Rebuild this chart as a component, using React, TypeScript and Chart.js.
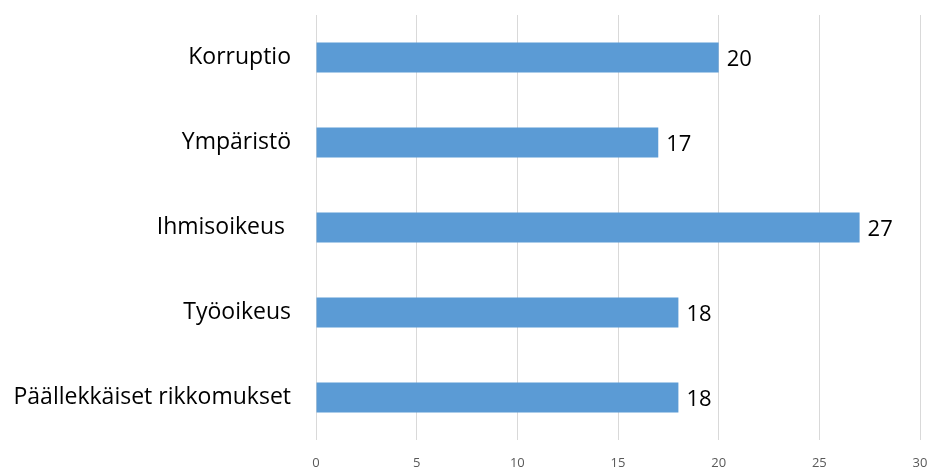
import React, { useEffect, useRef } from "react";
import { Chart, registerables } from "chart.js";

Chart.register(...registerables);

const categories = ["Korruptio", "Ympäristö", "Ihmisoikeus ", "Työoikeus", "Päällekkäiset rikkomukset"];
const values = [20, 17, 27, 18, 18];
const xTicks = [0, 5, 10, 15, 20, 25, 30];

const valueLabels = {
  id: "valueLabels",
  afterDatasetsDraw(chart: any) {
    const ctx = chart.ctx;
    const meta = chart.getDatasetMeta(0);
    ctx.save();
    ctx.font = "22px 'Open Sans'";
    ctx.fillStyle = "#000000";
    ctx.textAlign = "left";
    ctx.textBaseline = "middle";
    meta.data.forEach((bar: any, i: number) => {
      ctx.fillText(String(values[i]), bar.x + 8, bar.y + 2);
    });
    ctx.restore();
  },
};

export default function App() {
  const ref = useRef<HTMLCanvasElement | null>(null);
  useEffect(() => {
    document.body.style.margin = "0";
    const chart = new Chart(ref.current as HTMLCanvasElement, {
      type: "bar",
      data: {
        labels: categories,
        datasets: [
          {
            data: values,
            backgroundColor: "#5B9BD5",
            borderWidth: 0,
            categoryPercentage: 1,
            barPercentage: 0.355,
          },
        ],
      },
      options: {
        indexAxis: "y",
        animation: false,
        responsive: false,
        maintainAspectRatio: false,
        layout: { padding: { top: 15, right: 10, left: 0, bottom: 0 } },
        plugins: { legend: { display: false }, tooltip: { enabled: false } },
        scales: {
          x: {
            min: 0,
            max: 30,
            afterBuildTicks(axis: any) {
              axis.ticks = xTicks.map((v) => ({ value: v }));
            },
            grid: { color: "#d9d9d9", drawTicks: false, lineWidth: 1 },
            border: { display: false },
            ticks: { color: "#595959", font: { family: "'Open Sans'", size: 13 }, padding: 15, maxRotation: 0 },
            afterFit(axis: any) {
              axis.height = 29;
              axis.paddingLeft = 0;
              axis.paddingRight = 0;
              axis.paddingTop = 0;
              axis.paddingBottom = 0;
            },
          },
          y: {
            grid: { display: false, drawTicks: false },
            border: { display: false },
            ticks: { color: "#000000", font: { family: "'Open Sans'", size: 23 }, padding: 25 },
            afterFit(axis: any) {
              axis.width = 316;
              axis.paddingLeft = 0;
              axis.paddingRight = 0;
              axis.paddingTop = 0;
              axis.paddingBottom = 0;
            },
          },
        },
      },
      plugins: [valueLabels],
    });
    return () => chart.destroy();
  }, []);
  return (
    <div style={{ position: "absolute", left: 0, top: 0, width: 930, height: 469 }}>
      <canvas ref={ref} width={930} height={469} style={{ width: 930, height: 469 }} />
    </div>
  );
}
